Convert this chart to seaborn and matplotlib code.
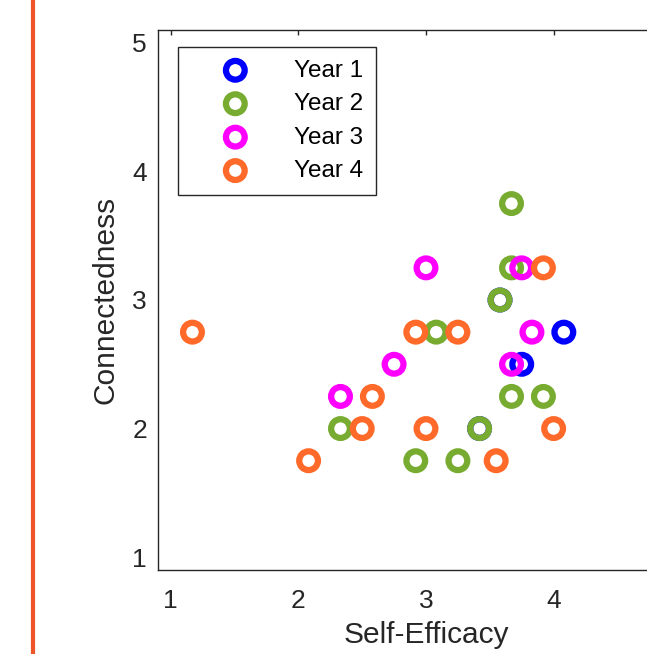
import matplotlib
matplotlib.use("Agg")
import matplotlib.pyplot as plt
import seaborn as sns
from matplotlib.lines import Line2D

# Data
years = ["Year 1", "Year 2", "Year 3", "Year 4"]
colors = ["#0000FF", "#77AC30", "#FF00FF", "#FF6A2A"]

y1_x = [4.08, 3.75, 3.58, 3.42]
y1_y = [2.75, 2.50, 3.00, 2.00]
y2_x = [3.67, 3.67, 3.58, 3.08, 3.67, 3.92, 2.33, 3.42, 2.92, 3.25]
y2_y = [3.75, 3.25, 3.00, 2.75, 2.25, 2.25, 2.00, 2.00, 1.75, 1.75]
y3_x = [3.00, 3.75, 3.83, 2.75, 3.67, 2.33]
y3_y = [3.25, 3.25, 2.75, 2.50, 2.50, 2.25]
y4_x = [3.92, 1.17, 2.92, 3.25, 2.58, 2.50, 3.00, 4.00, 2.08, 3.55]
y4_y = [3.25, 2.75, 2.75, 2.75, 2.25, 2.00, 2.00, 2.00, 1.75, 1.75]

xs = [y1_x, y2_x, y3_x, y4_x]
ys = [y1_y, y2_y, y3_y, y4_y]

xticks = [1, 2, 3, 4]
yticks = [1, 2, 3, 4, 5]

sns.set_style("white")
plt.rcParams["font.family"] = ["Liberation Sans", "DejaVu Sans"]

W, H = 647, 654
fig = plt.figure(figsize=(W / 100, H / 100), dpi=100)
ax = fig.add_axes([158 / W, (H - 570) / H, 536 / W, 540 / H])

for lab, col, x, y in zip(years, colors, xs, ys):
    sns.scatterplot(x=x, y=y, ax=ax, marker="o", s=182, facecolor="none",
                    edgecolor=col, linewidth=4.5, label=lab, zorder=3)

ax.set_xlim(0.9, 5.1)
ax.set_ylim(0.9, 5.1)
ax.set_xticks(xticks)
ax.set_yticks(yticks)
ax.tick_params(direction="in", top=True, right=True, length=3.5, width=1,
               colors="#262626", labelsize=19)
ax.tick_params(axis="y", pad=8)
ax.tick_params(axis="x", pad=13.5)
for sp in ax.spines.values():
    sp.set_color("#262626")
    sp.set_linewidth(1.0)
ax.set_xlabel("Self-Efficacy", fontsize=21.5, color="#262626", labelpad=6)
ax.set_ylabel("Connectedness", fontsize=21.5, color="#262626", labelpad=9)

leg = ax.legend(loc="upper left", bbox_to_anchor=(0.037, 0.9685), borderaxespad=0,
                fontsize=17.5, frameon=True, fancybox=False, framealpha=1,
                edgecolor="#262626", handlelength=3.69, handletextpad=0.56,
                borderpad=0.52, labelspacing=0.47)
leg.get_frame().set_linewidth(1.0)
for t in leg.get_texts():
    t.set_color("black")

fig.add_artist(Line2D([33 / W, 33 / W], [0, 1], color="#F0552A", linewidth=3.0,
                      transform=fig.transFigure))

fig.savefig("out.png", dpi=100, facecolor="white")
